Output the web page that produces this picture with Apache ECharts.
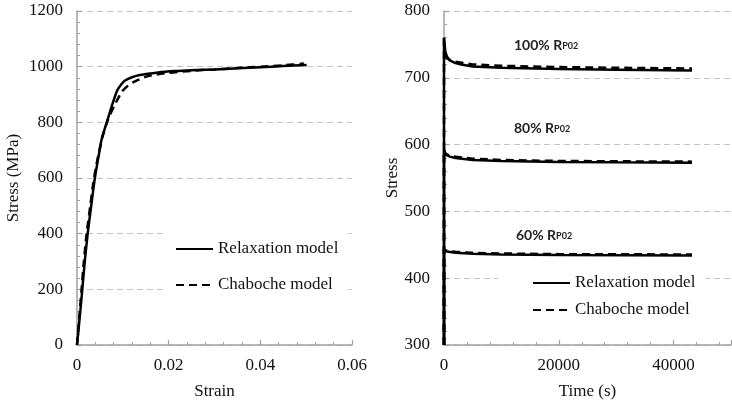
<!DOCTYPE html>
<html>
<head>
<meta charset="utf-8">
<script src="https://cdn.jsdelivr.net/npm/echarts@6/dist/echarts.min.js"></script>
<style>html,body{margin:0;padding:0;background:#fff;}#c{width:732px;height:405px;}</style>
</head>
<body>
<div id="c"></div>
<script>
// Left panel: stress-strain
const relaxStrain = [[0,0],[0.0006,100],[0.00116,200],[0.0017,300],[0.00233,400],[0.0031,500],[0.0039,600],[0.005,705],[0.0054,741],[0.0065,800],[0.0076,859],[0.0087,912],[0.0096,935],[0.0105,950],[0.012,962],[0.0137,970],[0.0177,979],[0.0214,984],[0.025,987],[0.03,990],[0.035,994],[0.04,998],[0.045,1002],[0.0501,1006]];
const chabStrain = [[0,0],[0.0005,100],[0.001,200],[0.0015,300],[0.0021,400],[0.0029,500],[0.0036,587],[0.0045,670],[0.0056,750],[0.0068,812],[0.0083,865],[0.0098,910],[0.011,930],[0.0122,944],[0.0155,966],[0.02,978],[0.025,985],[0.03,990],[0.035,995],[0.04,1000],[0.045,1005],[0.0495,1011]];
// Right panel: relaxation curves
const relax100 = [[0,300],[0,760],[200,740],[500,732],[1000,726],[2000,722],[3000,720],[5000,717],[10000,715],[20000,713],[30000,712],[43200,711]];
const chab100  = [[0,300],[0,760],[300,730],[1000,727],[2000,724],[5000,720],[10000,718],[20000,716],[30000,715],[43200,714]];
const relax80  = [[0,300],[0,592],[300,585],[1000,582],[2000,580],[5000,577],[10000,575.5],[20000,574],[30000,573.5],[43200,573]];
const chab80   = [[0,300],[0,592],[300,586],[1000,584],[2000,582],[5000,579],[10000,577],[20000,575.5],[30000,575],[43200,574.5]];
const relax60  = [[0,300],[0,443],[500,440],[2000,438],[5000,436.5],[10000,435.5],[20000,434.8],[43200,434]];
const chab60   = [[0,300],[0,443],[500,441],[2000,439.5],[5000,438],[10000,437],[20000,436],[43200,435.5]];
const seriesNames = ['Relaxation model','Chaboche model'];
const annotations = ['100% R','80% R','60% R'];
const annotSub = 'P02';

const serif = '"Liberation Serif","Times New Roman",serif';
const axisGray = '#a0a0a0';
const gridGray = '#c4c4c4';
const lbl = {fontFamily: serif, fontSize: 17, color: '#111', formatter: v => String(+v.toFixed(6))};

function valAxis(gridIndex, min, max, interval, name, nameGap, extra) {
  return Object.assign({
    type: 'value', gridIndex, min, max, interval,
    name, nameLocation: 'middle', nameGap,
    nameTextStyle: {fontFamily: serif, fontSize: 17, color: '#111'},
    axisLine: {show: true, onZero: false, lineStyle: {color: axisGray, width: 1.5}},
    axisTick: {show: true, inside: true, length: 5, lineStyle: {color: axisGray, width: 1.2}},
    minorTick: {show: true, splitNumber: 5, length: 3, lineStyle: {color: axisGray, width: 1}},
    axisLabel: Object.assign({margin: 12}, lbl),
    splitLine: {show: false}
  }, extra || {});
}
const ySplit = {show: true, lineStyle: {color: gridGray, type: [6, 4], width: 1.2}};

const solid = {color: '#000', width: 2.5, type: 'solid'};
const dashed = {color: '#000', width: 2.5, type: [8, 5]};
function line(name, data, xi, ls, sm) {
  return {name, type: 'line', data, xAxisIndex: xi, yAxisIndex: xi, showSymbol: false, symbol: 'none',
    lineStyle: ls, itemStyle: {color: '#000'}, smooth: sm || false, clip: true, animation: false};
}

const annY = [47, 130, 237];
const annX = [514, 514, 516];
const graphics = annotations.map((t, i) => ({
  type: 'text', left: annX[i], top: annY[i] - 9,
  style: {
    text: '{a|' + t + '}{s|' + annotSub + '}',
    rich: {
      a: {fontFamily: 'Lato, "Open Sans", sans-serif', fontSize: 14, fill: '#222', fontWeight: 'bold'},
      s: {fontFamily: 'Lato, "Open Sans", sans-serif', fontSize: 9, fill: '#222', fontWeight: 'bold', padding: [3, 0, 0, 0]}
    }
  }
}));

const legendCommon = {
  orient: 'vertical', data: seriesNames, backgroundColor: '#fff',
  itemWidth: 37, itemHeight: 14,
  itemStyle: {color: 'rgba(0,0,0,0)', borderColor: 'rgba(0,0,0,0)', borderWidth: 0},
  textStyle: {fontFamily: serif, fontSize: 17, color: '#111', lineHeight: 20}
};

const chart = echarts.init(document.getElementById('c'), null, {renderer: 'canvas'});
chart.setOption({
  animation: false,
  backgroundColor: '#fff',
  textStyle: {fontFamily: serif},
  grid: [
    {left: 77, right: 380, top: 11, bottom: 57, containLabel: false},
    {left: 444, right: 1, top: 11, bottom: 57, containLabel: false}
  ],
  xAxis: [
    valAxis(0, 0, 0.06, 0.02, 'Strain', 38),
    valAxis(1, 0, 50000, 20000, 'Time (s)', 38, {axisLabel: Object.assign({margin: 12, showMaxLabel: false}, lbl)})
  ],
  yAxis: [
    valAxis(0, 0, 1200, 200, 'Stress (MPa)', 55, {splitLine: ySplit, axisLabel: Object.assign({margin: 14}, lbl)}),
    valAxis(1, 300, 800, 100, 'Stress', 42, {splitLine: ySplit, axisLabel: Object.assign({margin: 14}, lbl)})
  ],
  legend: [
    Object.assign({left: 165, top: 227, padding: [12, 10, 8, 10], itemGap: 16}, legendCommon),
    Object.assign({left: 498, top: 265, padding: [8, 10, 8, 34], itemGap: 7}, legendCommon)
  ],
  graphic: graphics,
  series: [
    line(seriesNames[0], relaxStrain, 0, solid, 0.25),
    line(seriesNames[1], chabStrain, 0, dashed, 0.25),
    line(seriesNames[0], relax100, 1, solid),
    line(seriesNames[1], chab100, 1, dashed),
    line(seriesNames[0], relax80, 1, solid),
    line(seriesNames[1], chab80, 1, dashed),
    line(seriesNames[0], relax60, 1, solid),
    line(seriesNames[1], chab60, 1, dashed)
  ]
});
</script>
</body>
</html>
